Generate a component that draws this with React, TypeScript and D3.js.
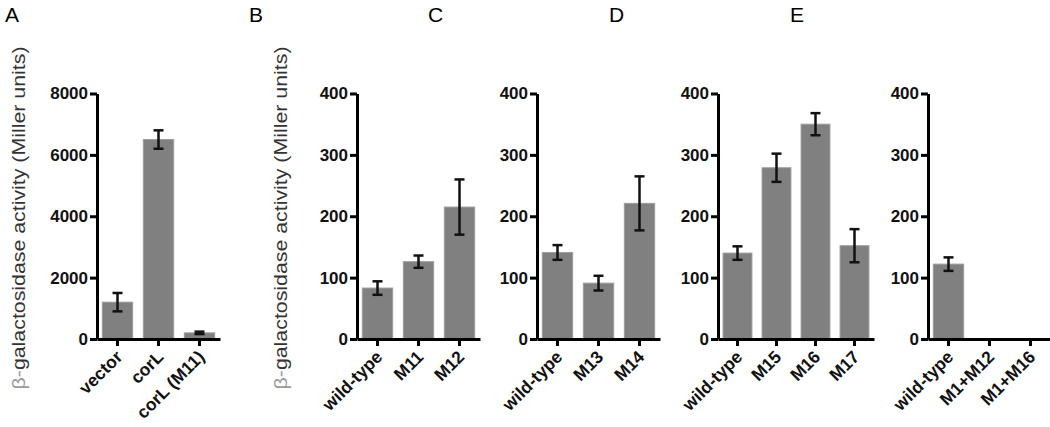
import React, {useEffect, useRef} from 'react';
import * as d3 from 'd3';

// values
const catsA = ['vector', 'corL', 'corL (M11)'];
const meanA = [1200, 6500, 200];
const errA = [300, 300, 40];

const catsB = ['wild-type', 'M11', 'M12'];
const meanB = [83, 126, 215];
const errB = [11, 10, 45];

const catsC = ['wild-type', 'M13', 'M14'];
const meanC = [141, 91, 221];
const errC = [12, 12, 44];

const catsD = ['wild-type', 'M15', 'M16', 'M17'];
const meanD = [140, 279, 350, 152];
const errD = [11, 23, 18, 27];

const catsE = ['wild-type', 'M1+M12', 'M1+M16'];
const meanE = [122, 0, 0];
const errE = [11, 0, 0];

const ticksA = [0, 2000, 4000, 6000, 8000];
const ticksSmall = [0, 100, 200, 300, 400];

const yTitle = 'galactosidase activity (Miller units)';

const panels = [
    {letter: 'A', letterX: 5, axisX: 97, step: 41, cats: catsA, mean: meanA, err: errA, ticks: ticksA, titleX: 19},
    {letter: 'B', letterX: 249, axisX: 357, step: 41, cats: catsB, mean: meanB, err: errB, ticks: ticksSmall, titleX: 281},
    {letter: 'C', letterX: 428, axisX: 537, step: 41, cats: catsC, mean: meanC, err: errC, ticks: ticksSmall, titleX: null},
    {letter: 'D', letterX: 609, axisX: 718, step: 39, cats: catsD, mean: meanD, err: errD, ticks: ticksSmall, titleX: null},
    {letter: 'E', letterX: 790, axisX: 928, step: 41, cats: catsE, mean: meanE, err: errE, ticks: ticksSmall, titleX: null},
];

const W = 1050, H = 427;
const Y0 = 339, Y1 = 93.5;
const FONT = '"Liberation Sans", Arial, sans-serif';

export default function App() {
    const ref = useRef<SVGSVGElement>(null);

    useEffect(() => {
        const svg = d3.select(ref.current);
        svg.selectAll('*').remove();

        panels.forEach(p => {
            const g = svg.append('g');
            const yMax = p.ticks[p.ticks.length - 1];
            const y = d3.scaleLinear([0, yMax], [Y0, Y1]);
            const x = d3.scaleBand(p.cats, [p.axisX, p.axisX + p.step * p.cats.length])
                .paddingInner(0.26).paddingOuter(0.13);

            g.append('text')
                .attr('x', p.letterX).attr('y', 22)
                .attr('font-family', FONT).attr('font-size', 21)
                .text(p.letter);

            if (p.titleX !== null) {
                const t = g.append('text')
                    .attr('transform', `translate(${p.titleX},218) rotate(-90)`)
                    .attr('text-anchor', 'middle')
                    .attr('dominant-baseline', 'central')
                    .attr('font-family', FONT).attr('font-size', 18)
                    .attr('fill', '#333')
                    .attr('textLength', 343)
                    .attr('lengthAdjust', 'spacingAndGlyphs');
                t.append('tspan').attr('fill', '#9a9a9a').text('\u03b2-');
                t.append('tspan').text(yTitle);
            }

            // bars (empty groups draw nothing)
            const idx = d3.range(p.cats.length).filter(i => p.mean[i] > 0);
            g.selectAll('rect.bar')
                .data(idx)
                .enter()
                .append('rect')
                .attr('x', i => x(p.cats[i])!)
                .attr('y', i => y(p.mean[i]))
                .attr('width', x.bandwidth())
                .attr('height', i => Y0 - y(p.mean[i]))
                .attr('fill', '#808080')
                .attr('stroke', '#9c9c9c')
                .attr('stroke-width', 1);

            // error bars
            idx.forEach(i => {
                const m = p.mean[i];
                const cx = x(p.cats[i])! + x.bandwidth() / 2;
                const eg = g.append('g').attr('stroke', '#111').attr('stroke-width', 2.5);
                eg.append('line').attr('x1', cx).attr('x2', cx)
                    .attr('y1', y(m + p.err[i])).attr('y2', y(m - p.err[i]));
                [m + p.err[i], m - p.err[i]].forEach(v => {
                    eg.append('line').attr('x1', cx - 5).attr('x2', cx + 5)
                        .attr('y1', y(v)).attr('y2', y(v));
                });
            });

            // y axis
            const ga = g.append('g')
                .attr('transform', `translate(${p.axisX},0)`)
                .call(d3.axisLeft(y).tickValues(p.ticks).tickSize(7).tickSizeOuter(0).tickPadding(2)
                    .tickFormat(d3.format('d')));
            ga.select('.domain').attr('stroke', '#000').attr('stroke-width', 3);
            ga.selectAll('.tick line').attr('stroke', '#000').attr('stroke-width', 3);
            ga.selectAll('.tick text')
                .attr('font-family', FONT).attr('font-size', 17).attr('font-weight', 'bold')
                .attr('fill', '#111');

            // x axis
            const gx = g.append('g')
                .attr('transform', `translate(0,${Y0})`)
                .call(d3.axisBottom(x).tickSize(7).tickSizeOuter(0));
            gx.select('.domain').attr('stroke', '#000').attr('stroke-width', 3);
            gx.selectAll('.tick line').attr('stroke', '#000').attr('stroke-width', 3);
            gx.selectAll('.tick text')
                .attr('font-family', FONT).attr('font-size', 17.5).attr('font-weight', 'bold')
                .attr('fill', '#111')
                .attr('text-anchor', 'end')
                .attr('dy', 0)
                .attr('y', 0)
                .attr('transform', 'translate(6,19) rotate(-45)');
        });
    }, []);

    return (
        <svg ref={ref} width={W} height={H}
             style={{position: 'absolute', left: 0, top: 0, background: '#fff'}}/>
    );
}
